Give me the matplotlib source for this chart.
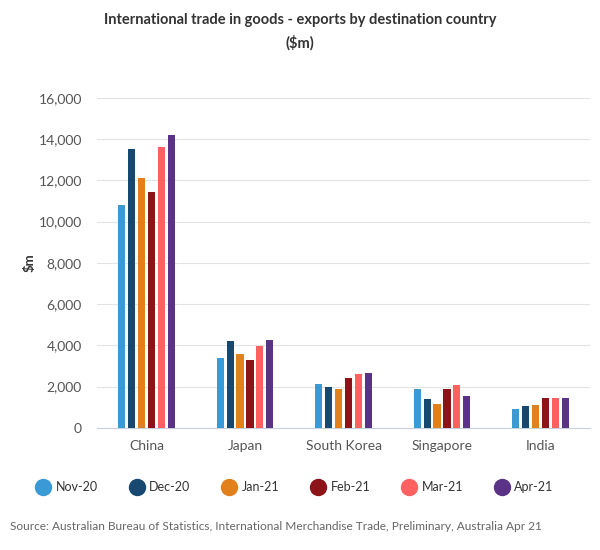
import matplotlib
matplotlib.use("Agg")
import matplotlib.pyplot as plt
import numpy as np
from matplotlib.lines import Line2D

plt.rcParams['font.family'] = ['Lato', 'DejaVu Sans']

countries = ["China", "Japan", "South Korea", "Singapore", "India"]
months = ["Nov-20", "Dec-20", "Jan-21", "Feb-21", "Mar-21", "Apr-21"]
nov20 = [10800, 3400, 2150, 1900, 940]
dec20 = [13500, 4230, 1960, 1420, 1080]
jan21 = [12120, 3560, 1910, 1180, 1130]
feb21 = [11450, 3310, 2440, 1910, 1470]
mar21 = [13640, 3990, 2590, 2100, 1470]
apr21 = [14200, 4280, 2680, 1570, 1470]
series = [nov20, dec20, jan21, feb21, mar21, apr21]
colors = ["#3a9ad5", "#17486f", "#e2801b", "#8c1419", "#ff6161", "#5a3387"]
yticks = [0, 2000, 4000, 6000, 8000, 10000, 12000, 14000, 16000]

fig = plt.figure(figsize=(6, 5.5), dpi=100)
ax = fig.add_axes([0.162, 0.222, 0.821, 0.6])

x = np.arange(len(countries))
step = 0.101
width = 0.072
for i, (vals, c) in enumerate(zip(series, colors)):
    ax.bar(x + (i - 2.5) * step, vals, width=width, color=c, zorder=3)

ax.set_xlim(-0.5, len(countries) - 0.5)
ax.set_ylim(0, 16000)
ax.set_yticks(yticks)
ax.set_yticklabels([f"{v:,}" for v in yticks], fontsize=10, color="#555555")
ax.set_xticks(x)
ax.set_xticklabels(countries, fontsize=10, color="#555555")
ax.tick_params(axis='y', length=0, pad=11)
ax.tick_params(axis='x', length=0, pad=9)
ax.grid(axis='y', color="#e3e3e3", linewidth=0.8, zorder=0)
for s in ["top", "right", "left"]:
    ax.spines[s].set_visible(False)
ax.spines["bottom"].set_color("#c8d0e0")
ax.set_ylabel("$m", fontsize=9.5, fontweight="bold", color="#333333", labelpad=2)

fig.text(0.5, 0.964, "International trade in goods - exports by destination country",
         ha="center", va="center", fontsize=10.5, color="#333333", fontweight="bold")
fig.text(0.5, 0.922, "($m)", ha="center", va="center", fontsize=10.5,
         color="#333333", fontweight="bold")

handles = [Line2D([0], [0], marker='o', linestyle='', markersize=11.5,
                  markerfacecolor=c, markeredgecolor=c) for c in colors]
fig.legend(handles, months, loc="center", bbox_to_anchor=(0.492, 0.1145), ncol=6,
           frameon=False, fontsize=9, handletextpad=0.5, columnspacing=2.6,
           handlelength=1.0, labelcolor="#333333")

fig.text(0.017, 0.042,
         "Source: Australian Bureau of Statistics, International Merchandise Trade, Preliminary, Australia Apr 21",
         ha="left", va="center", fontsize=8.6, color="#666666")

fig.savefig("out.png", dpi=100)
